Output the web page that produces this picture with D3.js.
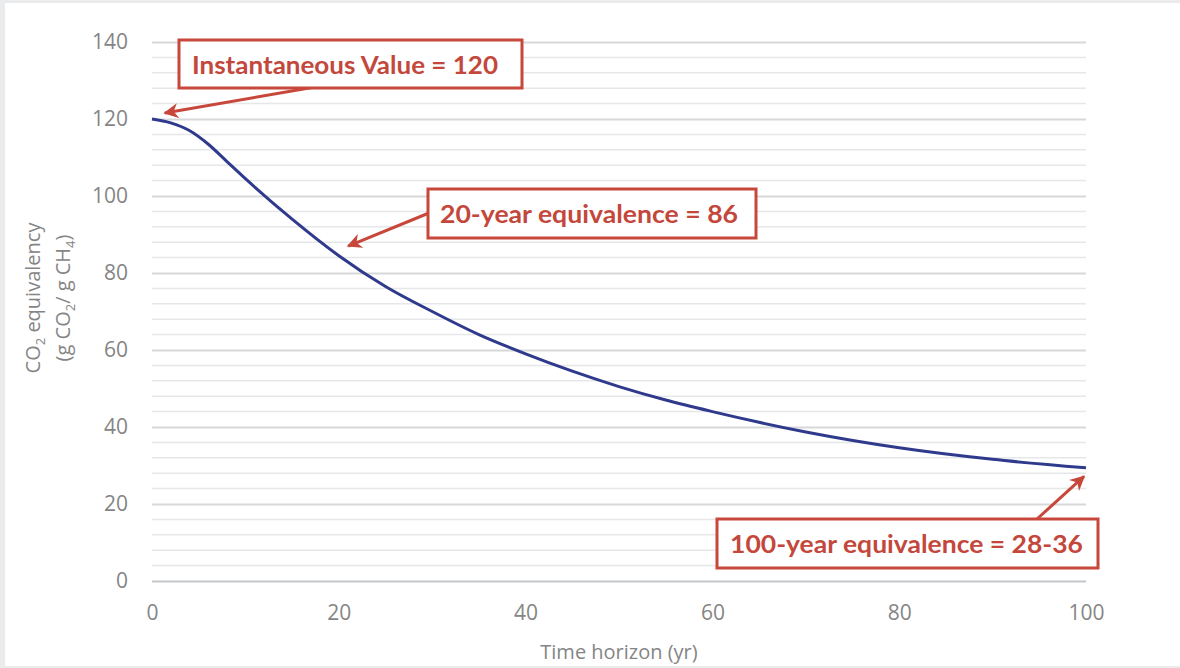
<!DOCTYPE html>
<html>
<head>
<meta charset="utf-8">
<script src="https://cdn.jsdelivr.net/npm/d3@7"></script>
<style>
  body { margin: 0; background: #e9ebed; }
  svg { display: block; }
  .tick text { font-family: "Open Sans", Lato, sans-serif; fill: #858585; font-size: 21px; }
  .note { font-family: Lato, "Open Sans", sans-serif; font-weight: bold; fill: #c4473c; }
</style>
</head>
<body>
<div id="chart"></div>
<script>
// Data
const years = [0, 2, 4, 6, 8, 10, 15, 20, 25, 30, 35, 40, 45, 50, 55, 60, 70, 80, 90, 100];
const co2eq = [120, 119, 117, 113.5, 109, 104.5, 94, 84.5, 76.5, 70, 64, 59, 54.5, 50.5, 47, 44, 38.7, 34.6, 31.6, 29.4];
const xTicks = [0, 20, 40, 60, 80, 100];
const yTicks = [0, 20, 40, 60, 80, 100, 120, 140];
const notes = [
  { text: "Instantaneous Value = 120", x: 0.3, y: 120 },
  { text: "20-year equivalence = 86", x: 21, y: 87 },
  { text: "100-year equivalence = 28-36", x: 100, y: 29.5 }
];

const svgWidth = 1180;
const svgHeight = 668;
const margin = { top: 42, right: 94, bottom: 87, left: 152 };
const chartWidth = svgWidth - margin.left - margin.right;
const chartHeight = svgHeight - margin.top - margin.bottom;

const svg = d3.select("#chart")
  .append("svg")
  .attr("width", svgWidth)
  .attr("height", svgHeight);

// white card
svg.append("rect")
  .attr("x", 5).attr("y", 3)
  .attr("width", svgWidth - 5).attr("height", 663)
  .attr("fill", "#ffffff");

const chartGroup = svg.append("g")
  .attr("transform", `translate(${margin.left}, ${margin.top})`);

const x = d3.scaleLinear().domain([0, 100]).range([0, chartWidth]);
const y = d3.scaleLinear().domain([0, 140]).range([chartHeight, 0]);

// minor gridlines every 4
chartGroup.append("g")
  .selectAll("line")
  .data(d3.range(0, 141, 4).filter(v => v % 20 !== 0))
  .join("line")
  .attr("x1", 0).attr("x2", chartWidth)
  .attr("y1", d => y(d)).attr("y2", d => y(d))
  .attr("stroke", "#e6e7e9")
  .attr("stroke-width", 1.5);

// major gridlines + y labels
const yAxis = chartGroup.append("g")
  .call(d3.axisLeft(y).tickValues(yTicks).tickSize(-chartWidth).tickPadding(24));
yAxis.select(".domain").remove();
yAxis.selectAll(".tick line")
  .attr("stroke", d => d === 0 ? "#c4c7ca" : "#d6d8da")
  .attr("stroke-width", 2);

const xAxis = chartGroup.append("g")
  .attr("transform", `translate(0, ${chartHeight})`)
  .call(d3.axisBottom(x).tickValues(xTicks).tickSize(0).tickPadding(24));
xAxis.select(".domain").remove();

// axis titles
svg.append("text")
  .attr("x", 619).attr("y", 659)
  .attr("text-anchor", "middle")
  .attr("font-family", "'Open Sans', Lato, sans-serif")
  .attr("font-size", 20)
  .attr("fill", "#858585")
  .text("Time horizon (yr)");

const yTitle = svg.append("text")
  .attr("transform", "translate(40, 298) rotate(-90)")
  .attr("text-anchor", "middle")
  .attr("font-family", "'Open Sans', Lato, sans-serif")
  .attr("font-size", 20)
  .attr("fill", "#858585");
yTitle.append("tspan").attr("x", 0).attr("y", 0).text("CO");
yTitle.append("tspan").attr("font-size", 13).attr("dy", 5).text("2");
yTitle.append("tspan").attr("dy", -5).text(" equivalency");
yTitle.append("tspan").attr("x", 0).attr("y", 30).text("(g CO");
yTitle.append("tspan").attr("font-size", 13).attr("dy", 5).text("2");
yTitle.append("tspan").attr("dy", -5).text("/ g CH");
yTitle.append("tspan").attr("font-size", 13).attr("dy", 5).text("4");
yTitle.append("tspan").attr("dy", -5).text(")");

// curve
const line = d3.line()
  .x((d, i) => x(years[i]))
  .y(d => y(d))
  .curve(d3.curveMonotoneX);

chartGroup.append("path")
  .datum(co2eq)
  .attr("d", line)
  .attr("fill", "none")
  .attr("stroke", "#2f3a8c")
  .attr("stroke-width", 3);

// annotation boxes (page coordinates)
const red = "#c8473b";
svg.append("defs").append("marker")
  .attr("id", "head")
  .attr("viewBox", "0 0 10 10")
  .attr("refX", 9).attr("refY", 5)
  .attr("markerWidth", 5).attr("markerHeight", 5)
  .attr("markerUnits", "strokeWidth")
  .attr("orient", "auto")
  .append("path")
  .attr("d", "M0,0 L10,5 L0,10 L3,5 Z")
  .attr("fill", red);

const boxes = [
  { x0: 179, y0: 40, x1: 522, y1: 88, tx0: 192, tx1: 498, ty: 74, ax: 315, ay: 87, dx: 10, dy: -6 },
  { x0: 428, y0: 189, x1: 756, y1: 238, tx0: 440, tx1: 738, ty: 223, ax: 429, ay: 213, dx: 0, dy: 0 },
  { x0: 717, y0: 519, x1: 1098, y1: 568, tx0: 730, tx1: 1083, ty: 553, ax: 1037, ay: 519, dx: -2, dy: 9 }
];

notes.forEach((n, i) => {
  const b = boxes[i];
  svg.append("line")
    .attr("x1", b.ax).attr("y1", b.ay)
    .attr("x2", margin.left + x(n.x) + b.dx)
    .attr("y2", margin.top + y(n.y) + b.dy)
    .attr("stroke", red)
    .attr("stroke-width", 3)
    .attr("marker-end", "url(#head)");
  svg.append("rect")
    .attr("x", b.x0).attr("y", b.y0)
    .attr("width", b.x1 - b.x0).attr("height", b.y1 - b.y0)
    .attr("fill", "#ffffff")
    .attr("stroke", red)
    .attr("stroke-width", 3);
  svg.append("text")
    .attr("class", "note")
    .attr("x", b.tx0).attr("y", b.ty)
    .attr("font-size", 25)
    .attr("textLength", b.tx1 - b.tx0)
    .attr("lengthAdjust", "spacingAndGlyphs")
    .text(n.text);
});
</script>
</body>
</html>
